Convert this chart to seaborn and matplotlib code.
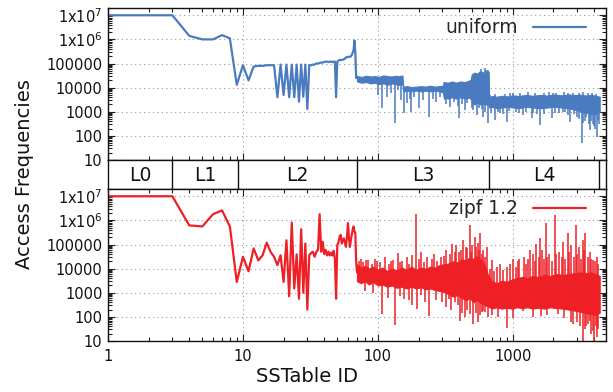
import matplotlib
matplotlib.use("Agg")
import numpy as np
import pandas as pd
import matplotlib.pyplot as plt
import seaborn as sns
from matplotlib.ticker import FixedLocator, FixedFormatter, LogLocator, NullFormatter

# ---------------- data ----------------
# sparse part: SSTable IDs 1..70
ids_sparse = list(range(1, 71))
uniform_freq = [1e7, 1e7, 1e7, 1.4e6, 1.0e6, 1.0e6, 1.5e6, 1.1e6, 1.3e4, 8.5e4,       # 1-10
                2.0e4, 7.5e4, 8.0e4, 8.0e4, 8.5e4, 8.5e4, 8.5e4, 4.0e3, 9.0e4, 4.9e3,    # 11-20
                9.0e4, 4.0e3, 9.0e4, 4.0e3, 9.0e4, 2.6e3, 9.0e4, 4.2e3, 9.0e4, 1.3e3,    # 21-30
                8.5e4, 8.5e4, 9.0e4, 9.0e4, 1.0e5, 1.0e5, 1.05e5, 1.1e5, 1.1e5, 1.15e5,  # 31-40
                1.2e5, 1.2e5, 1.15e5, 1.2e5, 1.2e5, 1.15e5, 1.2e5, 1.2e5, 4.0e3, 1.2e5,  # 41-50
                1.3e5, 1.4e5, 1.4e5, 1.4e5, 1.45e5, 1.5e5, 1.6e5, 1.8e5, 1.8e5, 1.9e5,   # 51-60
                1.9e5, 1.9e5, 2.0e5, 2.2e5, 2.8e5, 3.5e5, 9.0e5, 3.0e5, 2.5e4, 2.8e4]    # 61-70
zipf_freq = [1e7, 1e7, 1e7, 6.2e5, 5.6e5, 1.8e6, 2.6e6, 5.6e5, 2.8e3, 3.1e4,           # 1-10
             7.8e3, 6.9e4, 2.2e4, 3.6e4, 1.2e5, 5.0e4, 3.1e4, 1.4e4, 3.6e4, 2.8e3,       # 11-20
             1.5e5, 7.2e2, 8.1e5, 1.5e3, 3.9e4, 5.6e2, 4.3e5, 1.0e3, 1.1e5, 2.0e2,       # 21-30
             3.6e4, 4.5e4, 5.0e4, 3.1e4, 5.0e4, 6.0e4, 1.8e6, 5.0e4, 1.3e5, 4.0e4,       # 31-40
             6.0e4, 3.5e4, 5.0e4, 3.5e4, 4.5e4, 3.5e4, 5.5e4, 2.5e4, 5.6e2, 9.5e4,       # 41-50
             1.2e5, 2.1e5, 2.5e5, 1.1e5, 1.5e5, 1.8e5, 1.2e5, 8.0e4, 2.0e5, 7.7e5,       # 51-60
             2.0e5, 8.0e4, 1.5e5, 2.5e5, 4.0e5, 5.6e5, 3.5e5, 3.0e5, 2.0e4, 7.0e3]       # 61-70

# dense part (IDs 70..4400): envelope of the dense band
uniform_band_ids = [70, 76, 82, 88, 95, 102, 110, 118, 126, 135, 144, 152,
                    154, 165, 178, 192, 208, 225, 245, 265, 285, 303,
                    307, 330, 355, 380, 410, 440, 470, 488,
                    495, 520, 545, 570, 600, 630, 662,
                    666, 700, 760, 830, 920, 1000, 1100, 1250, 1400, 1600,
                    1800, 2000, 2300, 2600, 2900, 3200, 3500, 3800, 4100, 4400]
uniform_band_lo = [1.8e4, 1.6e4, 1.7e4, 1.5e4, 1.6e4, 1.4e4, 1.5e4, 1.3e4, 1.5e4, 1.4e4, 1.3e4, 1.4e4,
                   7.0e3, 7.5e3, 7.0e3, 7.5e3, 7.0e3, 7.5e3, 7.0e3, 7.5e3, 7.0e3, 6.5e3,
                   4.0e3, 3.5e3, 4.0e3, 3.5e3, 4.0e3, 3.5e3, 3.8e3, 3.5e3,
                   2.5e3, 2.0e3, 2.5e3, 2.0e3, 2.2e3, 2.0e3, 2.0e3,
                   1.5e3, 1.6e3, 1.4e3, 1.5e3, 1.6e3, 1.5e3, 1.4e3, 1.6e3, 1.5e3, 1.4e3,
                   1.5e3, 1.6e3, 1.5e3, 1.4e3, 1.2e3, 1.0e3, 9.0e2, 8.0e2, 8.0e2, 1.0e3]
uniform_band_hi = [3.0e4, 2.8e4, 3.1e4, 2.9e4, 3.0e4, 2.8e4, 3.2e4, 3.0e4, 2.9e4, 3.1e4, 3.0e4, 3.2e4,
                   1.1e4, 1.15e4, 1.05e4, 1.1e4, 1.15e4, 1.1e4, 1.2e4, 1.1e4, 1.15e4, 1.2e4,
                   1.7e4, 1.6e4, 1.8e4, 1.6e4, 1.8e4, 1.7e4, 1.9e4, 2.2e4,
                   3.5e4, 4.2e4, 3.8e4, 4.8e4, 4.2e4, 5.2e4, 4.5e4,
                   4.0e3, 4.5e3, 4.2e3, 4.6e3, 4.3e3, 4.8e3, 4.5e3, 5.0e3, 4.6e3, 5.0e3,
                   4.7e3, 5.2e3, 4.8e3, 5.2e3, 4.9e3, 5.1e3, 4.7e3, 5.0e3, 4.6e3, 4.2e3]
# single spikes sticking out of the band (base inside the band, tip)
uniform_spike_ids = ([108, 117, 133, 149, 156, 165, 177, 203, 240, 270, 313, 342, 400, 440,
                      495, 540, 600, 655, 580, 625, 650,
                      736, 800, 898, 1050, 1190, 1376, 1500, 1600, 1940, 2200, 2450, 2670,
                      3000, 3230, 3400, 3720, 3900, 4000, 4210, 4350, 1000, 2000, 3100]
                     + [100, 125, 140, 172, 185, 215, 255, 290, 320, 365, 390, 420, 460, 510, 560, 590, 620]
                     + [680, 740, 870, 960, 1130, 1300, 1450, 1700, 1850, 2100, 2400, 2550, 2800, 3300,
                        3600, 3850, 4150]
                     + [690, 770, 850, 940, 1120, 1250, 1420, 1700, 2050, 2350, 2550, 2850, 3100, 3300,
                        3500, 3650, 3800, 4050, 4300])
uniform_spike_base = ([2e4, 2e4, 2e4, 2e4, 9e3, 9e3, 9e3, 9e3, 9e3, 9e3, 8e3, 8e3, 8e3, 8e3,
                       1e4, 1e4, 1e4, 1e4, 3e4, 3e4, 3e4]
                      + [3e3] * 23
                      + [2e4, 2e4, 2e4, 9e3, 9e3, 9e3, 9e3, 9e3, 8e3, 8e3, 8e3, 8e3, 8e3, 1e4, 1e4, 1e4, 1e4]
                      + [3e3] * 17
                      + [3e3] * 19)
uniform_spike_tip = ([1.4e3, 4.2e3, 3.5e2, 3.0e3, 8.5e2, 2.2e3, 1.0e3, 1.4e3, 6.2e2, 2.5e3, 3.0e3, 1.6e3, 5.4e2,
                      1.2e3, 1.4e3, 7.3e2, 6.3e2, 3.3e2, 6.0e4, 6.5e4, 5.5e4,
                      4.6e2, 9.0e2, 3.9e2, 1.0e3, 7.3e2, 5.4e2, 8.0e2, 2.8e2, 5.4e2, 9.0e2, 1.0e3, 3.9e2,
                      6.0e2, 49, 4.0e2, 1.75e2, 3.0e2, 2.5e2, 93, 3.0e2, 6.0e3, 6.0e3, 6.0e3]
                     + [5e3, 6e3, 8e3, 3.5e3, 4e3, 3e3, 3.5e3, 4e3, 2e3, 2.5e3, 1.8e3, 2e3, 2.2e3, 1.2e3,
                        1.5e3, 1.3e3, 1e3]
                     + [5e3, 5.5e3, 5.5e3, 6e3, 5.8e3, 6.5e3, 6e3, 6.2e3, 6.5e3, 6e3, 6.5e3, 6e3, 6.2e3,
                        6.5e3, 6e3, 6.2e3, 5.5e3]
                     + [900, 1000, 800, 1100, 900, 1000, 900, 800, 900, 1000, 700, 800, 500, 350, 600,
                        300, 400, 200, 450])

zipf_band_ids = [70, 75, 80, 86, 92, 100, 108, 117, 127, 138, 150, 163, 177, 192, 208, 225, 245, 265, 285, 305,
                 330, 360, 390, 420, 450, 480, 510, 540, 570, 600, 625, 650,
                 700, 760, 830, 900, 980, 1070, 1170, 1280, 1400, 1550, 1700, 1900, 2100,
                 2350, 2600, 2900, 3200, 3500, 3800, 4100, 4400]
zipf_band_lo = [3.0e3, 2.5e3, 3.0e3, 2.2e3, 2.8e3, 2.0e3, 2.2e3, 1.8e3, 2.0e3, 1.6e3, 1.8e3, 1.5e3, 1.8e3, 1.5e3,
                1.7e3, 1.4e3, 1.5e3, 1.3e3, 1.2e3, 1.1e3,
                9.0e2, 7.0e2, 8.0e2, 6.0e2, 5.0e2, 6.0e2, 4.0e2, 5.0e2, 4.0e2, 3.5e2, 3.0e2, 2.8e2,
                2.2e2, 2.5e2, 2.2e2, 2.4e2, 2.2e2, 2.5e2, 2.3e2, 2.5e2, 2.2e2, 2.4e2, 2.2e2, 2.5e2, 2.3e2,
                2.2e2, 2.0e2, 1.8e2, 1.6e2, 1.4e2, 1.3e2, 1.2e2, 1.5e2]
zipf_band_hi = [1.5e4, 1.1e4, 1.3e4, 1.0e4, 1.2e4, 9.0e3, 1.1e4, 8.0e3, 1.0e4, 8.5e3, 1.1e4, 9.0e3, 1.2e4, 9.0e3,
                1.1e4, 1.0e4, 1.2e4, 1.1e4, 1.4e4, 1.5e4,
                1.6e4, 2.0e4, 1.8e4, 2.4e4, 2.2e4, 3.0e4, 2.5e4, 3.2e4, 2.6e4, 2.0e4, 1.2e4, 6.0e3,
                3.0e3, 2.5e3, 3.2e3, 2.8e3, 3.5e3, 4.0e3, 4.5e3, 4.0e3, 5.0e3, 4.5e3, 5.5e3, 5.0e3, 6.0e3,
                5.5e3, 6.0e3, 6.5e3, 7.0e3, 6.5e3, 7.0e3, 6.0e3, 5.0e3]
zipf_spike_ids = ([75, 85, 95, 113, 125, 140, 165, 180, 190, 210, 232, 260, 295, 322, 354, 380, 400, 428,
                   450, 480, 500, 524, 550, 570, 600, 640, 695, 800, 900, 1010, 1120, 1200, 1330, 1400,
                   1490, 1590, 1650, 1750, 1850, 2050, 2200, 2360, 2570, 2700, 2960, 3100, 3300, 3430,
                   3700, 3950, 4200,
                   108, 133, 157, 178, 194, 240, 300, 335, 372, 405, 440, 480, 508, 553, 587, 620,
                   898, 1190, 1620, 2150, 2700, 2800, 3300, 3500, 3700, 3900, 4000, 4300]
                  + [72, 78, 82, 90, 98, 104, 120, 130, 145, 152, 170, 200, 220, 250, 275, 310, 340, 370,
                     410, 460, 490, 530, 560, 590, 620]
                  + [80, 92, 118, 145, 170, 210, 225, 270, 320, 350, 390, 420, 460, 530, 570, 600, 650]
                  + [680, 720, 760, 850, 950, 1050, 1100, 1250, 1300, 1450, 1550, 1700, 1800, 1950, 2100,
                     2300, 2450, 2600, 2850, 3000, 3200, 3350, 3600, 3800, 4050, 4300]
                  + [700, 780, 1000, 1400, 1800, 2400, 3000, 3150, 3400, 3600, 3800, 4100, 4200])
zipf_spike_base = ([5e3] * 25 + [3e3] + [1e3] * 25 + [3e3] * 15 + [1e3] * 13
                   + [5e3] * 25 + [3e3] * 17 + [1e3] * 26 + [1e3] * 13)
zipf_spike_tip = ([2.5e4, 2.2e4, 2.5e4, 3.1e4, 2.0e4, 4.4e4, 3.0e4, 3.6e4, 1.8e6, 5.0e4, 3.0e4, 4.0e4, 3.1e4,
                   5.9e4, 1.1e5, 9.6e4, 5.0e4, 1.5e5, 8.0e4, 6.6e5, 1.0e5, 2.1e5, 1.2e5, 3.0e5, 6.0e4,
                   8.0e4, 2.2e4, 1.6e4, 1.2e4, 2.6e4, 2.6e4, 3.0e4, 5.9e4, 4.0e4, 1.1e5, 1.8e5, 6.0e4,
                   7.7e5, 4.0e4, 1.7e6, 5.0e4, 1.3e5, 3.0e5, 1.0e5, 6.6e5, 8.0e4, 1.5e5, 3.0e5, 5.0e4,
                   2.2e4, 3.0e4,
                   1.3e2, 46, 5.6e2, 3.0e2, 2.1e2, 1.12e2, 4.0e2, 5.6e2, 4.0e2, 69, 1.0e2, 1.3e2, 50, 60,
                   1.55e2, 1.55e2, 36, 1.8e2, 1.1e2, 1.3e2, 60, 50, 5, 40, 69, 25, 5, 30]
                  + [2e4, 1.8e4, 2.2e4, 1.6e4, 2e4, 1.8e4, 1.6e4, 2.2e4, 1.8e4, 2e4, 1.6e4, 2.5e4, 1.8e4,
                     2.5e4, 2e4, 3.5e4, 4e4, 5e4, 6e4, 7e4, 5e4, 8e4, 6e4, 4e4, 3e4]
                  + [1.2e3, 1e3, 600, 700, 500, 800, 400, 500, 250, 200, 300, 150, 200, 150, 120, 180, 100]
                  + [1e4, 8e3, 1.2e4, 9e3, 1.5e4, 1.2e4, 2e4, 1.5e4, 2.5e4, 2e4, 3e4, 2.5e4, 3e4, 2e4, 4e4,
                     3e4, 2.5e4, 5e4, 3e4, 4e4, 2.5e4, 6e4, 3e4, 2.5e4, 2e4, 1.5e4]
                  + [120, 100, 90, 100, 120, 90, 60, 40, 30, 50, 20, 40, 15])

level_names = ["L0", "L1", "L2", "L3", "L4"]
level_edges = [1, 3, 9.2, 70, 664, 4350]

y_ticks = [10, 100, 1000, 10000, 100000, 1e6, 1e7]
y_tick_labels = ["10", "100", "1000", "10000", "100000", r"1x10$^{6}$", r"1x10$^{7}$"]
x_ticks = [1, 10, 100, 1000]
x_tick_labels = ["1", "10", "100", "1000"]

series = [
    ("uniform", "#4a7bc0", uniform_freq, uniform_band_ids, uniform_band_lo, uniform_band_hi,
     uniform_spike_ids, uniform_spike_base, uniform_spike_tip),
    ("zipf 1.2", "#ee2026", zipf_freq, zipf_band_ids, zipf_band_lo, zipf_band_hi,
     zipf_spike_ids, zipf_spike_base, zipf_spike_tip),
]

# ---------------- drawing ----------------
sns.set_style("ticks")
plt.rcParams["font.family"] = ["DejaVu Sans"]
plt.rcParams["mathtext.fontset"] = "dejavusans"

W_PX, H_PX = 613, 392
fig = plt.figure(figsize=(W_PX / 100, H_PX / 100), dpi=100)
left, width = 108 / W_PX, 498 / W_PX
ax_top = fig.add_axes([left, 1 - 160 / H_PX, width, 152 / H_PX])
ax_band = fig.add_axes([left, 1 - 189 / H_PX, width, 29 / H_PX])
ax_bot = fig.add_axes([left, 1 - 341 / H_PX, width, 152 / H_PX])

XMIN, XMAX = 1, 4900

for ax, (label, color, freq, b_ids, b_lo, b_hi, s_ids, s_base, s_tip) in zip([ax_top, ax_bot], series):
    df = pd.DataFrame({"id": ids_sparse, "freq": freq})
    sns.lineplot(data=df, x="id", y="freq", ax=ax, color=color, lw=1.6,
                 estimator=None, sort=False, label=label)
    ax.fill_between(b_ids, b_lo, b_hi, color=color, lw=0.8, edgecolor=color)
    ax.vlines(s_ids, s_base, s_tip, color=color, lw=1.1)
    ax.set_xscale("log")
    ax.set_yscale("log")
    ax.set_xlim(XMIN, XMAX)
    ax.set_ylim(10, 2e7)
    ax.yaxis.set_major_locator(FixedLocator(y_ticks))
    ax.yaxis.set_major_formatter(FixedFormatter(y_tick_labels))
    ax.yaxis.set_minor_locator(LogLocator(base=10, subs=np.arange(2, 10), numticks=20))
    ax.yaxis.set_minor_formatter(NullFormatter())
    ax.xaxis.set_major_locator(FixedLocator(x_ticks))
    ax.xaxis.set_major_formatter(FixedFormatter(x_tick_labels))
    ax.xaxis.set_minor_locator(LogLocator(base=10, subs=np.arange(2, 10), numticks=20))
    ax.xaxis.set_minor_formatter(NullFormatter())
    ax.tick_params(which="both", direction="in", top=True, right=True, width=0.8,
                   colors="#222222", labelsize=10.5, labelcolor="#111111")
    ax.tick_params(which="major", length=5, pad=4)
    ax.tick_params(which="minor", length=3)
    ax.grid(True, which="major", ls=(0, (1, 3)), color="#9a9a9a", lw=0.8)
    ax.set_axisbelow(True)
    ax.set_xlabel("")
    ax.set_ylabel("")
    for sp in ax.spines.values():
        sp.set_linewidth(1.0)
        sp.set_color("#111111")
    ax.legend(loc="upper right", bbox_to_anchor=(1 - 10 / 498, 1.0), frameon=False, markerfirst=False,
              handlelength=2.8, handletextpad=0.8, fontsize=13.5, borderaxespad=0.15)

ax_top.tick_params(axis="x", which="both", labelbottom=False)
ax_bot.tick_params(axis="x", which="major", pad=6)

# level band
ax_band.set_xscale("log")
ax_band.set_xlim(XMIN, XMAX)
ax_band.set_ylim(0, 1)
ax_band.set_xticks([])
ax_band.set_yticks([])
ax_band.minorticks_off()
for sp in ax_band.spines.values():
    sp.set_linewidth(1.0)
    sp.set_color("#111111")
ax_band.vlines(level_edges[1:], 0, 1, color="#111111", lw=1.0)
for name, a, b in zip(level_names, level_edges[:-1], level_edges[1:]):
    ax_band.text(np.sqrt(a * b), 0.47, name, ha="center", va="center", fontsize=13.5, color="#111111")

fig.text(25 / W_PX, 1 - 174 / H_PX, "Access Frequencies", rotation=90, ha="center", va="center",
         fontsize=14, color="#111111")
fig.text(307 / W_PX, 1 - 377 / H_PX, "SSTable ID", ha="center", va="center", fontsize=14, color="#111111")

fig.savefig("out.png", dpi=100)
